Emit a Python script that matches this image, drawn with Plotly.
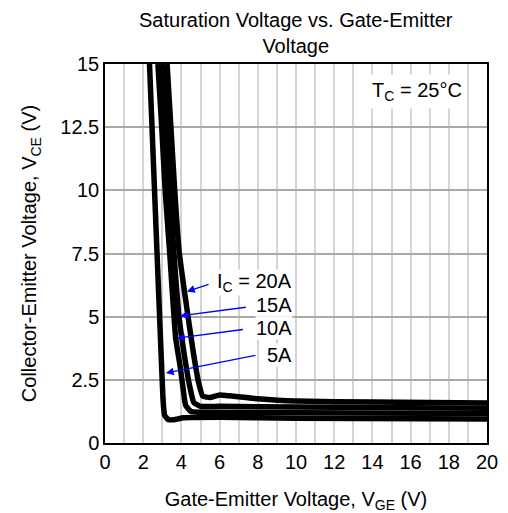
import plotly.graph_objects as go

vge_5a = [2.33, 2.72, 2.93, 3.04, 3.12, 3.3, 3.6, 4.1, 6.0, 10.0, 20.0]
vce_5a = [15.0, 7.6, 3.68, 1.7, 1.1, 0.93, 0.92, 1.0, 1.02, 0.98, 0.95]

vge_10a = [2.77, 2.97, 3.15, 3.38, 3.7, 3.92, 4.08, 4.22, 4.5, 6.0, 10.0, 20.0]
vce_10a = [15.0, 12.5, 10.0, 7.6, 4.15, 3.1, 2.2, 1.5, 1.25, 1.22, 1.2, 1.17]

vge_15a = [3.0, 3.2, 3.4, 3.6, 3.87, 4.15, 4.42, 4.65, 5.0, 6.0, 10.0, 20.0]
vce_15a = [15.0, 12.5, 10.0, 7.6, 5.03, 3.5, 2.3, 1.6, 1.45, 1.45, 1.42, 1.38]

vge_20a = [3.25, 3.45, 3.65, 3.88, 4.15, 4.6, 4.9, 5.12, 5.5, 6.0, 8.0, 10.0, 14.0, 20.0]
vce_20a = [15.0, 12.5, 10.0, 7.6, 6.05, 3.7, 2.4, 1.85, 1.8, 1.9, 1.75, 1.66, 1.62, 1.58]

x_ticks = [0, 2, 4, 6, 8, 10, 12, 14, 16, 18, 20]
y_ticks = [0, 2.5, 5, 7.5, 10, 12.5, 15]
y_tick_text = ["0", "2.5", "5", "7.5", "10", "12.5", "15"]

labels = ["I<sub>C</sub> = 20A", "15A", "10A", "5A"]
label_y = [6.37, 5.46, 4.55, 3.48]
arrow_head_x = [4.29, 3.93, 3.77, 3.19]
arrow_head_y = [6.0, 5.03, 4.15, 2.77]
arrow_tail_x = [5.5, 7.45, 7.3, 7.95]
arrow_tail_y = [6.3, 5.38, 4.5, 3.48]

fig = go.Figure()
for xs, ys in [(vge_5a, vce_5a), (vge_10a, vce_10a), (vge_15a, vce_15a), (vge_20a, vce_20a)]:
    fig.add_trace(go.Scatter(x=xs, y=ys, mode="lines",
                             line=dict(color="black", width=5.5, shape="spline", smoothing=0.4),
                             showlegend=False, hoverinfo="skip"))

font = "Liberation Sans, Arial, sans-serif"

for txt, ly in zip(labels, label_y):
    fig.add_annotation(x=9.85, y=ly, xref="x", yref="y", text=txt, showarrow=False,
                       xanchor="right", yanchor="middle", bgcolor="white",
                       font=dict(family=font, size=20, color="black"), borderpad=0)

for hx, hy, tx, ty in zip(arrow_head_x, arrow_head_y, arrow_tail_x, arrow_tail_y):
    fig.add_annotation(x=hx, y=hy, ax=tx, ay=ty, xref="x", yref="y", axref="x", ayref="y",
                       text="", showarrow=True, arrowhead=2, arrowsize=1.2, arrowwidth=1.3,
                       arrowcolor="blue")

fig.add_annotation(x=18.95, y=13.9, xref="x", yref="y", text="T<sub>C</sub> = 25°C",
                   showarrow=False, xanchor="right", yanchor="middle", bgcolor="white",
                   font=dict(family=font, size=20, color="black"), borderpad=4)

fig.add_annotation(x=0.5, y=1.0805, xref="paper", yref="paper",
                   text="Saturation Voltage vs. Gate-Emitter<br>Voltage",
                   showarrow=False, xanchor="center", yanchor="middle",
                   font=dict(family=font, size=20, color="black"))

fig.update_layout(
    width=500, height=505,
    margin=dict(l=97, r=21, t=56, b=70),
    paper_bgcolor="white", plot_bgcolor="white",
    font=dict(family=font, size=20, color="black"),
    xaxis=dict(range=[0, 20], tickvals=x_ticks, ticktext=[str(v) for v in x_ticks],
               showgrid=True, gridcolor="#d4d4d4", gridwidth=2,
               minor=dict(dtick=1, showgrid=True, gridcolor="#d4d4d4", gridwidth=2),
               showline=True, linecolor="black", linewidth=1.5, mirror=True,
               ticks="", zeroline=False, automargin=False,
               title=dict(text="Gate-Emitter Voltage, V<sub>GE</sub> (V)", standoff=20,
                          font=dict(family=font, size=20))),
    yaxis=dict(range=[0, 15], tickvals=y_ticks, ticktext=y_tick_text,
               showgrid=True, gridcolor="#a8a8a8", gridwidth=2,
               showline=True, linecolor="black", linewidth=1.5, mirror=True,
               ticks="", zeroline=False, automargin=False,
               title=dict(text="Collector-Emitter Voltage, V<sub>CE</sub> (V)", standoff=18,
                          font=dict(family=font, size=20))),
)

fig.write_html("out.html")
